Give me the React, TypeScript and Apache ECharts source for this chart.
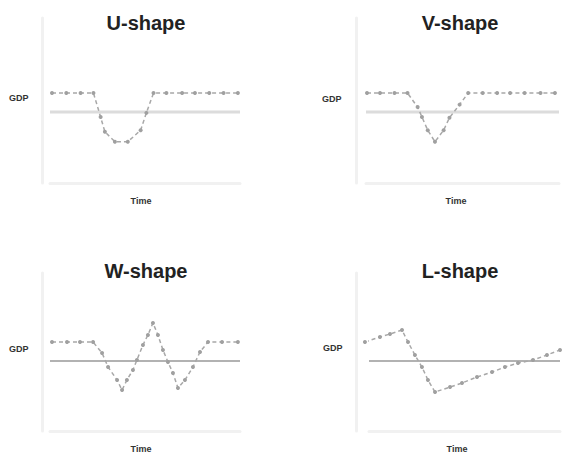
import React, { useEffect, useRef } from "react";
import * as echarts from "echarts";

const titles = ["U-shape", "V-shape", "W-shape", "L-shape"];
const yName = "GDP";
const xName = "Time";

// time (x) values and GDP (y) values for each shape
const uTime = [0, 1, 2, 2.9, 3.4, 3.7, 4.4, 5.3, 6.2, 6.6, 7.1, 8, 9.1, 10, 11, 12, 13];
const uGdp = [5.45, 5.45, 5.45, 5.45, 4.0, 3.1, 2.5, 2.5, 3.2, 4.25, 5.45, 5.45, 5.45, 5.45, 5.45, 5.45, 5.45];

const vTime = [0, 0.9, 1.9, 2.8, 3.5, 3.8, 4.2, 4.7, 5.3, 5.7, 6.4, 7, 8, 9, 9.9, 10.9, 12, 13];
const vGdp = [5.45, 5.45, 5.45, 5.45, 4.6, 4.0, 3.2, 2.5, 3.2, 3.95, 4.75, 5.45, 5.45, 5.45, 5.45, 5.45, 5.45, 5.45];

const wTime = [0, 1.05, 1.96, 2.87, 3.5, 3.92, 4.55, 4.9, 5.24, 5.66, 5.94, 6.36, 6.71, 7.06, 7.41, 7.76, 8.11, 8.46, 8.81, 9.3, 9.86, 10.35, 10.91, 11.89, 13];
const wGdp = [5.63, 5.63, 5.63, 5.63, 4.94, 4.05, 3.23, 2.59, 3.23, 3.86, 4.49, 5.44, 6.08, 6.84, 6.08, 5.13, 4.37, 3.67, 2.72, 3.23, 4.05, 5.0, 5.63, 5.63, 5.63];

const lTime = [0, 1, 1.67, 2.47, 2.87, 3.33, 3.8, 4.2, 4.67, 5.67, 6.47, 7.47, 8.47, 9.33, 10.2, 11.2, 12.13, 13];
const lGdp = [5.63, 5.95, 6.14, 6.39, 5.63, 4.81, 4.05, 3.23, 2.47, 2.78, 3.04, 3.42, 3.73, 4.05, 4.3, 4.49, 4.81, 5.13];

const baselines = [4.3, 4.3, 4.43, 4.43];
const xRanges: [number, number][] = [
  [-0.14, 13.15],
  [-0.07, 13.28],
  [-0.14, 13.15],
  [0.27, 13],
];
const yRange: [number, number] = [0, 10];

const shapes = [
  [uTime, uGdp],
  [vTime, vGdp],
  [wTime, wGdp],
  [lTime, lGdp],
];

export default function App() {
  const ref = useRef<HTMLDivElement>(null);

  useEffect(() => {
    if (!ref.current) return;
    const chart = echarts.init(ref.current, undefined, { renderer: "svg" });

    const grids = [
      { left: 50, top: 18, width: 190, height: 165 },
      { left: 366, top: 18, width: 193, height: 165 },
      { left: 50, top: 273, width: 190, height: 158 },
      { left: 369, top: 273, width: 191, height: 158 },
    ];
    const yOffsets = [8, 10, 8, 13];
    const titleCenters = [
      [141, 8],
      [455, 8],
      [141, 256],
      [455, 256],
    ];
    const gdpPos = [
      [9, 93],
      [322, 94],
      [9, 344],
      [323, 343],
    ];
    const timePos = [
      [141, 196],
      [456, 196],
      [141, 444],
      [457, 444],
    ];
    const axisColor = "#f1f1f1";
    const baseColors = ["#dcdcdc", "#dcdcdc", "#666666", "#666666"];
    const baseWidths = [3, 3, 1.2, 1.2];

    const xAxis = grids.map((_, i) => ({
      type: "value",
      gridIndex: i,
      min: xRanges[i][0],
      max: xRanges[i][1],
      axisLine: { show: true, onZero: false, lineStyle: { color: axisColor, width: 3 } },
      axisTick: { show: false },
      axisLabel: { show: false },
      splitLine: { show: false },
    }));
    const yAxis = grids.map((_, i) => ({
      type: "value",
      gridIndex: i,
      min: yRange[0],
      max: yRange[1],
      offset: yOffsets[i],
      axisLine: { show: true, onZero: false, lineStyle: { color: axisColor, width: 3 } },
      axisTick: { show: false },
      axisLabel: { show: false },
      splitLine: { show: false },
    }));

    const series: any[] = [];
    shapes.forEach(([t, g], i) => {
      series.push({
        type: "line",
        xAxisIndex: i,
        yAxisIndex: i,
        data: [
          [xRanges[i][0], baselines[i]],
          [xRanges[i][1], baselines[i]],
        ],
        showSymbol: false,
        symbol: "none",
        lineStyle: { color: baseColors[i], width: baseWidths[i] },
        z: 1,
        silent: true,
      });
      series.push({
        type: "line",
        xAxisIndex: i,
        yAxisIndex: i,
        data: t.map((x, k) => [x, g[k]]),
        symbol: "circle",
        symbolSize: 4,
        clip: false,
        itemStyle: { color: "#a0a0a0" },
        lineStyle: { color: "#a8a8a8", width: 1.5, type: [4, 3] },
        z: 3,
      });
    });

    const title = titles.map((text, i) => ({
      text,
      left: titleCenters[i][0],
      top: titleCenters[i][1],
      textAlign: "center",
      textStyle: {
        fontFamily: "Liberation Sans, Arial, sans-serif",
        fontSize: 20,
        fontWeight: "bold",
        color: "#222",
      },
    }));

    const graphic: any[] = [];
    for (let i = 0; i < 4; i++) {
      graphic.push({
        type: "text",
        left: gdpPos[i][0],
        top: gdpPos[i][1],
        style: {
          text: yName,
          fontFamily: "Liberation Sans, Arial, sans-serif",
          fontSize: 9,
          fontWeight: "bold",
          fill: "#333",
        },
      });
      graphic.push({
        type: "text",
        x: timePos[i][0],
        y: timePos[i][1],
        style: {
          text: xName,
          fontFamily: "Liberation Sans, Arial, sans-serif",
          fontSize: 9,
          fontWeight: "bold",
          fill: "#333",
          textAlign: "center",
        },
      });
    }

    chart.setOption({
      animation: false,
      backgroundColor: "#ffffff",
      title,
      grid: grids,
      xAxis,
      yAxis,
      series,
      graphic,
    });

    return () => chart.dispose();
  }, []);

  return <div ref={ref} style={{ width: 582, height: 459, position: "absolute", left: 0, top: 0 }} />;
}
